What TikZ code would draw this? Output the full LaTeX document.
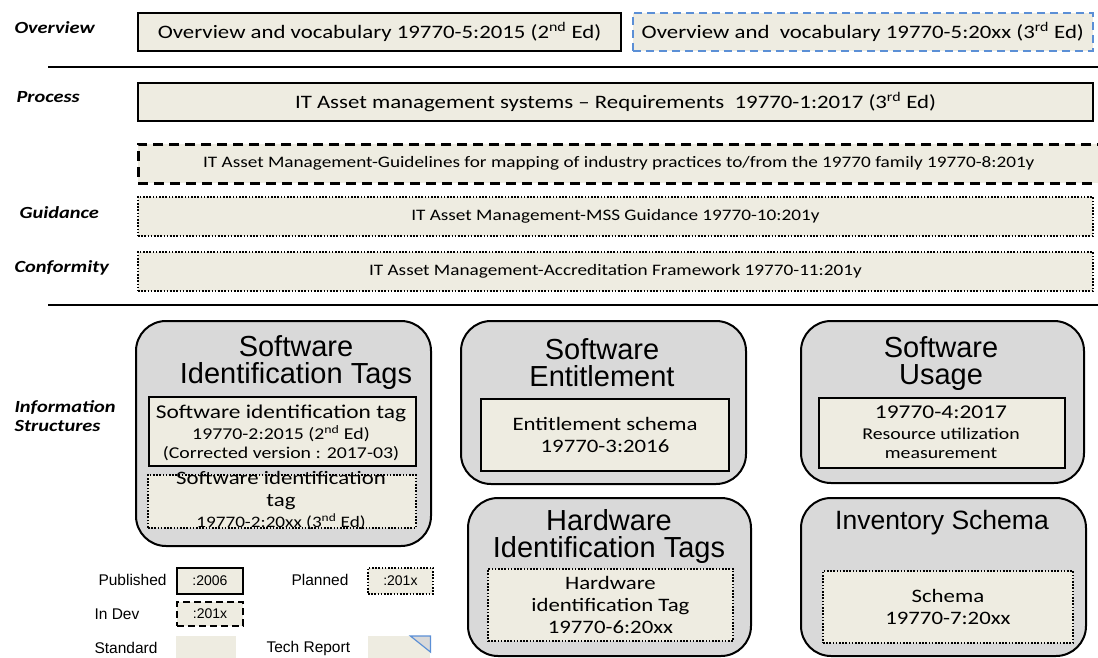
\documentclass[tikz,border=0pt]{standalone}
\usepackage{fontspec}
\setmainfont{Carlito}[FakeStretch=1.2]
\newfontfamily\arf{Liberation Sans}
\definecolor{beige}{HTML}{EEECE1}
\definecolor{grp}{HTML}{D9D9D9}
\definecolor{bluedash}{HTML}{5B8FD6}
\begin{document}
\begin{tikzpicture}[x=1pt,y=-1pt,
  box/.style={draw, fill=beige, inner sep=0pt, anchor=north west, align=center},
  pub/.style={box, line width=2pt},
  indev/.style={box, line width=2.6pt, dash pattern=on 10pt off 6pt},
  plan/.style={box, line width=1.8pt, dash pattern=on 1.6pt off 1.6pt},
  future/.style={box, line width=1.6pt, draw=bluedash, dash pattern=on 8pt off 5pt},
  grpbox/.style={draw, fill=grp, line width=2pt, rounded corners=30pt, anchor=north west, inner sep=0pt},
  sect/.style={anchor=west, font=\fontsize{17}{19}\selectfont\bfseries\itshape, align=left},
  title/.style={font=\arf\fontsize{29}{27}\selectfont, align=center},
  big/.style={font=\fontsize{19}{22}\selectfont},
  mid/.style={font=\fontsize{16}{19}\selectfont},
  inner/.style={font=\fontsize{19}{22}\selectfont, align=center},
  leg/.style={font=\arf\fontsize{15.5}{17}\selectfont, anchor=west},
  legk/.style={font=\arf\fontsize{14}{16}\selectfont},
  sep/.style={line width=2.5pt}]
\useasboundingbox (0,0) rectangle (1098,658);

% ---- Overview
\node[sect] (lov) at (11,28) {Overview};
\node[pub, minimum width=483pt, minimum height=38pt, big] (ov1) at (137,12)
  {Overview and vocabulary 19770-5:2015 (2\textsuperscript{nd} Ed)};
\node[future, minimum width=460pt, minimum height=38pt, big] (ov2) at (632,12)
  {Overview and\ \ vocabulary 19770-5:20xx (3\textsuperscript{rd} Ed)};
\coordinate (s1a) at (48,67); \coordinate (s1b) at (1098,67);
\draw[sep] (s1a) -- (s1b);

% ---- Process
\node[sect] (lpr) at (13,97) {Process};
\node[pub, minimum width=955pt, minimum height=38pt, big] (proc) at (137,82)
  {IT Asset management systems -- Requirements\ \ 19770-1:2017 (3\textsuperscript{rd} Ed)};
\node[indev, minimum width=961pt, minimum height=39pt, mid] (g8) at (137,143)
  {IT Asset Management-Guidelines for mapping of industry practices to/from the 19770 family 19770-8:201y};

% ---- Guidance
\node[sect] (lgu) at (16,213) {Guidance};
\node[plan, minimum width=955pt, minimum height=39pt, mid] (g10) at (137,196)
  {IT Asset Management-MSS Guidance 19770-10:201y};

% ---- Conformity
\node[sect] (lco) at (11,268) {Conformity};
\node[plan, minimum width=955pt, minimum height=39pt, mid] (g11) at (137,251)
  {IT Asset Management-Accreditation Framework 19770-11:201y};
\coordinate (s2a) at (48,305); \coordinate (s2b) at (1098,305);
\draw[sep] (s2a) -- (s2b);

% ---- Information structures
\node[sect] (lis) at (11,416) {Information\\Structures};

% SWID
\node[grpbox, minimum width=295pt, minimum height=225pt] (swid) at (135,320) {};
\node[title] (swidt) at (296,363) {Software\\Identification Tags};
\node[pub, minimum width=267pt, minimum height=69pt] (swid1) at (148,396) {};
\node[font=\fontsize{19.5}{21}\selectfont] (swid1a) at (281,413) {Software identification tag};
\node[font=\fontsize{16.5}{19}\selectfont, align=center] (swid1b) at (281,443)
  {19770-2:2015 (2\textsuperscript{nd} Ed)\\(Corrected version : 2017-03)};
\node[plan, minimum width=268pt, minimum height=53pt] (swid2) at (147,474) {};
\node[font=\fontsize{19}{22}\selectfont, align=center] (swid2a) at (281,491)
  {Software identification\\tag};
\node[font=\fontsize{16}{18}\selectfont] (swid2b) at (281,522)
  {19770-2:20xx (3\textsuperscript{nd} Ed)};

% Entitlement
\node[grpbox, minimum width=285pt, minimum height=163pt] (ent) at (460,320) {};
\node[title] (entt) at (602,363) {Software\\Entitlement};
\node[pub, minimum width=248pt, minimum height=72pt, inner] (ent1) at (480,398)
  {Entitlement schema\\19770-3:2016};

% Usage
\node[grpbox, minimum width=283pt, minimum height=162pt] (use) at (800,320) {};
\node[title] (uset) at (941,364) {Software\\Usage};
\node[pub, minimum width=246pt, minimum height=70pt] (use1) at (818,397) {};
\node[font=\fontsize{19.5}{21}\selectfont] (use1a) at (941,412) {19770-4:2017};
\node[font=\fontsize{16.5}{19}\selectfont, align=center] (use1b) at (941,443) {Resource utilization\\measurement};

% Hardware
\node[grpbox, minimum width=283pt, minimum height=158pt] (hw) at (467,497) {};
\node[title] (hwt) at (609,536) {Hardware\\Identification Tags};
\node[plan, minimum width=245pt, minimum height=72pt, inner] (hw1) at (487,568)
  {Hardware\\identification Tag\\19770-6:20xx};

% Inventory
\node[grpbox, minimum width=285pt, minimum height=158pt] (inv) at (800,497) {};
\node[font=\arf\fontsize{26.5}{28}\selectfont] (invt) at (942,523) {Inventory Schema};
\node[plan, minimum width=250pt, minimum height=72pt, inner] (inv1) at (822,570)
  {Schema\\19770-7:20xx};

% ---- Legend
\node[leg] (lpub) at (95,580) {Published};
\node[pub, minimum width=66pt, minimum height=26pt, legk] (kpub) at (176,567) {:2006};
\node[leg] (lplan) at (288,580) {Planned};
\node[plan, minimum width=65pt, minimum height=26pt, legk] (kplan) at (367,567) {:201x};
\node[leg] (ldev) at (91,614) {In Dev};
\node[indev, line width=2.2pt, dash pattern=on 7pt off 4pt, minimum width=66pt, minimum height=24pt, legk] (kdev) at (176,601) {:201x};
\node[leg] (lstd) at (91,648) {Standard};
\node[box, draw=none, minimum width=60pt, minimum height=22pt] (kstd) at (176,636) {};
\node[leg] (ltr) at (263,648) {Tech Report};
\node[box, draw=none, minimum width=62pt, minimum height=22pt] (ktr) at (368,636) {};
\draw[draw=bluedash, fill=grp, line width=1.2pt] (ktr.north east) -- ++(-20,0) -- ++(20,16) -- cycle;
\end{tikzpicture}
\end{document}
